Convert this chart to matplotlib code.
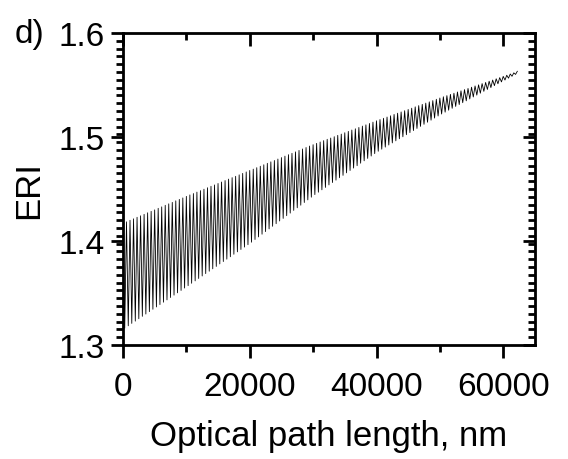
import numpy as np
import matplotlib
matplotlib.use('agg')
import matplotlib.pyplot as plt
from matplotlib.ticker import MultipleLocator, FixedLocator, NullFormatter

# fringe trace: ERI at each turning point, peaks and troughs alternate
path_end = 62200  # nm

eri_peaks = [
    1.4170, 1.4184, 1.4199, 1.4213, 1.4228, 1.4242, 1.4256, 1.4271, 1.4285, 1.4299,
    1.4314, 1.4328, 1.4343, 1.4357, 1.4371, 1.4386, 1.4400, 1.4414, 1.4429, 1.4443,
    1.4456, 1.4470, 1.4484, 1.4498, 1.4512, 1.4526, 1.4539, 1.4553, 1.4567, 1.4581,
    1.4595, 1.4609, 1.4622, 1.4636, 1.4650, 1.4664, 1.4678, 1.4691, 1.4705, 1.4719,
    1.4733, 1.4747, 1.4761, 1.4774, 1.4788, 1.4802, 1.4816, 1.4830, 1.4843, 1.4857,
    1.4871, 1.4885, 1.4899, 1.4913, 1.4926, 1.4939, 1.4952, 1.4965, 1.4978, 1.4990,
    1.5003, 1.5016, 1.5028, 1.5041, 1.5054, 1.5067, 1.5079, 1.5092, 1.5105, 1.5117,
    1.5130, 1.5143, 1.5156, 1.5168, 1.5180, 1.5192, 1.5204, 1.5217, 1.5229, 1.5241,
    1.5253, 1.5265, 1.5277, 1.5290, 1.5302, 1.5314, 1.5326, 1.5338, 1.5350, 1.5363,
    1.5375, 1.5387, 1.5398, 1.5410, 1.5421, 1.5433, 1.5444, 1.5456, 1.5467, 1.5479,
    1.5491, 1.5502, 1.5514, 1.5525, 1.5537, 1.5548, 1.5560, 1.5571, 1.5583, 1.5594,
    1.5606, 1.5617, 1.5632,
]

eri_troughs = [
    1.3161, 1.3184, 1.3207, 1.3229, 1.3252, 1.3275, 1.3297, 1.3320, 1.3343, 1.3365,
    1.3388, 1.3411, 1.3433, 1.3456, 1.3479, 1.3501, 1.3524, 1.3547, 1.3570, 1.3593,
    1.3616, 1.3639, 1.3663, 1.3686, 1.3709, 1.3732, 1.3755, 1.3779, 1.3802, 1.3825,
    1.3848, 1.3872, 1.3895, 1.3918, 1.3941, 1.3964, 1.3988, 1.4014, 1.4039, 1.4065,
    1.4090, 1.4116, 1.4141, 1.4166, 1.4192, 1.4217, 1.4243, 1.4268, 1.4294, 1.4319,
    1.4344, 1.4370, 1.4395, 1.4421, 1.4446, 1.4469, 1.4492, 1.4515, 1.4539, 1.4562,
    1.4585, 1.4608, 1.4631, 1.4655, 1.4678, 1.4701, 1.4724, 1.4748, 1.4771, 1.4794,
    1.4817, 1.4840, 1.4863, 1.4883, 1.4903, 1.4923, 1.4943, 1.4963, 1.4983, 1.5002,
    1.5022, 1.5042, 1.5062, 1.5082, 1.5102, 1.5122, 1.5142, 1.5162, 1.5182, 1.5202,
    1.5221, 1.5239, 1.5258, 1.5276, 1.5294, 1.5312, 1.5330, 1.5348, 1.5366, 1.5385,
    1.5403, 1.5421, 1.5439, 1.5457, 1.5475, 1.5494, 1.5512, 1.5530, 1.5548, 1.5566,
    1.5584, 1.5602,
]

x_ticks = [0, 20000, 40000, 60000]
y_ticks = [1.3, 1.4, 1.5, 1.6]

# interleave peaks and troughs into one zig-zag trace
eri = []
for i, p in enumerate(eri_peaks):
    eri.append(p)
    if i < len(eri_troughs):
        eri.append(eri_troughs[i])
path = np.linspace(0, path_end, len(eri))

plt.rcParams['font.family'] = ['Liberation Sans', 'DejaVu Sans']
fs = 24
fs_label = 25

fig = plt.figure(figsize=(5.68, 4.60), dpi=100)
ax = fig.add_axes([0.2165, 0.248, 0.7255, 0.678])

ax.plot(path, eri, color='black', linewidth=0.6)

ax.set_xlim(0, 65000)
ax.set_ylim(1.3, 1.6)
ax.set_xticks(x_ticks)
ax.set_yticks(y_ticks)
ax.set_xticklabels([str(t) for t in x_ticks])
ax.set_yticklabels([f'{t:.1f}' for t in y_ticks])
ax.xaxis.set_minor_locator(MultipleLocator(10000))
ax.yaxis.set_minor_locator(FixedLocator(np.linspace(1.3, 1.6, 41)))

for s in ax.spines.values():
    s.set_linewidth(2)
ax.tick_params(which='both', direction='out', width=2, labelsize=fs)
ax.tick_params(axis='x', pad=10)
ax.tick_params(axis='y', pad=4)
ax.tick_params(which='major', length=9)
ax.tick_params(which='minor', length=5)

# mirrored ticks on top and right pointing inwards
top = ax.secondary_xaxis('top')
top.set_xticks(x_ticks)
top.xaxis.set_minor_locator(MultipleLocator(10000))
top.xaxis.set_major_formatter(NullFormatter())
top.tick_params(which='both', direction='in', width=2)
top.tick_params(which='major', length=9)
top.tick_params(which='minor', length=5)

right = ax.secondary_yaxis('right')
right.set_yticks(y_ticks)
right.yaxis.set_minor_locator(FixedLocator(np.linspace(1.3, 1.6, 41)))
right.yaxis.set_major_formatter(NullFormatter())
right.tick_params(which='both', direction='in', width=2)
right.tick_params(which='major', length=9)
right.tick_params(which='minor', length=5)

ax.set_xlabel('Optical path length, nm', fontsize=fs_label, labelpad=12)
ax.set_ylabel('ERI', fontsize=fs_label, labelpad=10)

fig.text(0.025, 0.926, 'd)', fontsize=fs, va='center', ha='left')

fig.savefig('out.png', dpi=100)
